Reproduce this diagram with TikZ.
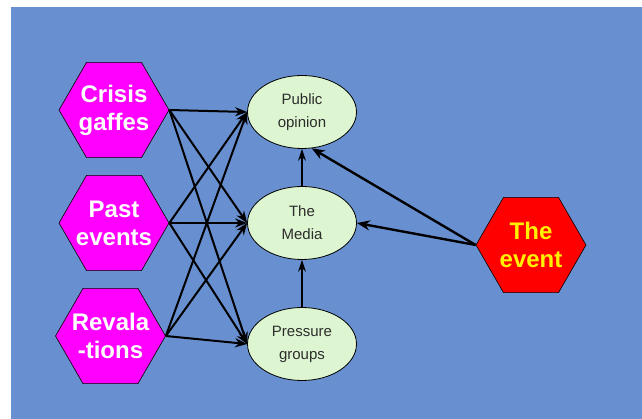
\documentclass[tikz,border=0pt]{standalone}
\usepackage{fontspec}
\setmainfont{Liberation Sans}
\usetikzlibrary{shapes.geometric,arrows.meta}

\definecolor{bgblue}{RGB}{104,144,208}
\definecolor{hexmag}{RGB}{255,0,255}
\definecolor{ovgreen}{RGB}{221,245,208}
\definecolor{ovtext}{RGB}{45,45,45}

\tikzset{
	cause/.style={regular polygon, regular polygon sides=6, minimum size=110pt, inner sep=0pt,
		draw=black, line width=.6pt, fill=hexmag},
	causetext/.style={text=white, align=center, inner sep=0pt,
		font=\fontsize{24}{28}\selectfont\bfseries},
	actor/.style={ellipse, minimum width=109pt, minimum height=73pt, inner sep=0pt,
		draw=black, line width=.8pt, fill=ovgreen, text=ovtext, align=center,
		font=\fontsize{15}{23}\selectfont},
	link/.style={line width=2pt, -{Stealth[length=12pt,width=9pt]}},
	uplink/.style={line width=1.2pt, -{Stealth[length=12pt,width=8pt]}},
	hit/.style={line width=2.4pt, -{Stealth[length=13pt,width=10pt]}}
}

\begin{document}
\begin{tikzpicture}[x=1pt,y=-1pt]
	
	\useasboundingbox (0,0) rectangle (642,419);
	\fill[white] (0,0) rectangle (642,419);
	\fill[bgblue] (11,7) rectangle (642,419);
	
	% left causes
	\node[cause] (crisis) at (114,110) {};
	\node[causetext] at (crisis) {Crisis\\gaffes};
	\node[cause] (past) at (114,223) {};
	\node[causetext] at (past) {Past\\events};
	\node[cause] (reval) at (110.5,336) {};
	\node[causetext] at (reval) {Revala\\-tions};
	
	% middle actors
	\node[actor] (public) at (302,112) {Public\\opinion};
	\node[actor] (media) at (302,223) {The\\Media};
	\node[actor] (pressure) at (302,344) {Pressure\\groups};
	
	% the event
	\node[cause, fill=red] (event) at (531,245) {};
	\node[causetext, text=yellow] at (event) {The\\event};
	
	\foreach \src in {crisis,past,reval}{
		\foreach \dst in {public,media,pressure}
			\draw[link] (\src.east) -- (\dst.west);
	}
	
	\draw[uplink] (media.north) -- (public.south);
	\draw[uplink] (pressure.north) -- (media.south);
	
	\draw[hit] (event.west) -- (public.-75);
	\draw[hit] (event.west) -- (media.east);
	
\end{tikzpicture}
\end{document}
